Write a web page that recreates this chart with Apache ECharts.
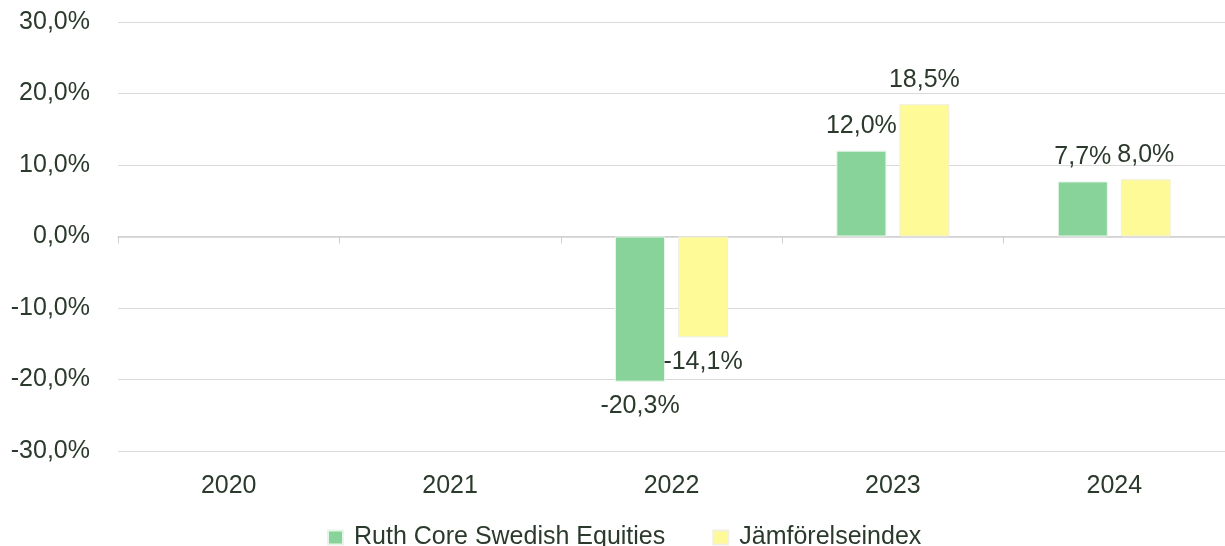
<!DOCTYPE html>
<html><head><meta charset="utf-8">
<script src="https://cdn.jsdelivr.net/npm/echarts@6/dist/echarts.min.js"></script>
<style>html,body{margin:0;padding:0;background:#fff}#c{width:1225px;height:546px}</style>
</head><body><div id="c"></div>
<script>
const categories = ['2020','2021','2022','2023','2024'];
const ruthValues = [null, null, -20.3, 12.0, 7.7];
const indexValues = [null, null, -14.1, 18.5, 8.0];
const seriesNames = ['Ruth Core Swedish Equities', 'Jämförelseindex'];

const txt = '#2b3a2d';
const font = 'Liberation Sans';
const fmt = v => v.toFixed(1).replace('.', ',') + '%';

function mk(vals) {
  return vals.map(v => v === null ? null : {
    value: v,
    label: { position: v < 0 ? 'bottom' : 'top' }
  });
}

const chart = echarts.init(document.getElementById('c'));
chart.setOption({
  animation: false,
  grid: { left: 118, right: 0, top: 22, bottom: 95 },
  legend: {
    top: 520, left: 322,
    icon: 'rect',
    itemWidth: 15, itemHeight: 14, itemGap: 47,
    textStyle: { color: txt, fontFamily: font, fontSize: 25, padding: [0, 0, 0, 6] },
    data: seriesNames
  },
  xAxis: [{
    type: 'category', data: categories, position: 'bottom',
    axisLine: { show: false, onZero: false }, axisTick: { show: false },
    axisLabel: { color: txt, fontFamily: font, fontSize: 25, margin: 23 }
  }, {
    type: 'category', data: categories, position: 'bottom',
    axisLine: { show: true, onZero: true, onZeroAxisIndex: 0, lineStyle: { color: '#cfcfcf', width: 1.5 } },
    axisTick: { show: true, length: 7, lineStyle: { color: '#cfcfcf' } },
    axisLabel: { show: false }
  }],
  yAxis: {
    type: 'value', min: -30, max: 30, interval: 10,
    axisLine: { show: false }, axisTick: { show: false },
    splitLine: { lineStyle: { color: '#d9d9d9', width: 1.2 } },
    axisLabel: { color: txt, fontFamily: font, fontSize: 25, margin: 28, formatter: v => fmt(v) }
  },
  series: [{
    name: seriesNames[0], type: 'bar', data: mk(ruthValues),
    barWidth: 50, barGap: '26%',
    itemStyle: { color: '#88d399', borderColor: '#e6f5e9', borderWidth: 1 },
    label: { show: true, color: txt, fontFamily: font, fontSize: 25, distance: 12, formatter: p => fmt(p.value) }
  }, {
    name: seriesNames[1], type: 'bar', data: mk(indexValues),
    barWidth: 50, barGap: '26%',
    itemStyle: { color: '#fffa98', borderColor: '#f0f0e0', borderWidth: 1 },
    label: { show: true, color: txt, fontFamily: font, fontSize: 25, distance: 12, formatter: p => fmt(p.value) }
  }]
});
</script></body></html>
